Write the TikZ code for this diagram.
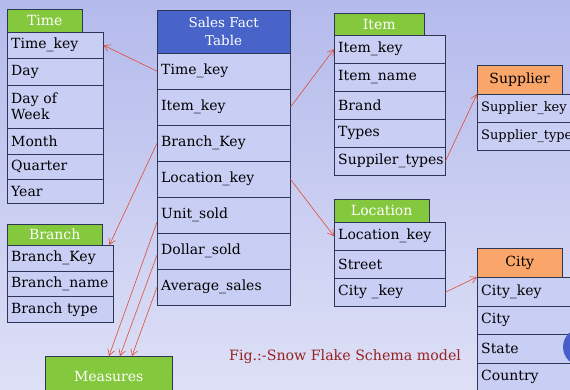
\documentclass[tikz,border=0pt]{standalone}
\usepackage{fontspec}
\setmainfont{DejaVu Serif}
\usetikzlibrary{arrows.meta}
\hyphenpenalty=10000
\exhyphenpenalty=10000
\definecolor{bgtop}{RGB}{180,186,236}
\definecolor{bgbot}{RGB}{222,224,246}
\definecolor{cellc}{RGB}{201,206,244}
\definecolor{linec}{RGB}{45,55,85}
\definecolor{hgreen}{RGB}{132,200,62}
\definecolor{hblue}{RGB}{72,100,200}
\definecolor{horange}{RGB}{250,165,105}
\definecolor{linkred}{RGB}{225,75,55}
\definecolor{capred}{RGB}{150,35,35}
\definecolor{dotblue}{RGB}{70,95,200}

\begin{document}
\begin{tikzpicture}[x=1pt,y=-1pt,font=\fontsize{14}{16}\selectfont,
  cell/.style={draw=linec, fill=cellc, anchor=north west, inner xsep=4pt, inner ysep=0pt, align=left},
  hdr/.style={draw=linec, anchor=north west, inner sep=0pt, text=white},
  link/.style={draw=linkred, semithick, -{Straight Barb[length=6pt,width=7pt]}}]
\useasboundingbox (0,0) rectangle (570,390);
\clip (0,0) rectangle (570,390);
\shade[top color=bgtop, bottom color=bgbot] (0,0) rectangle (570,390);

% Time
\node[hdr, fill=hgreen, minimum width=75, minimum height=23] (time) at (7,9) {Time};
\foreach \y/\h/\t [count=\i from 0] in {32/26/Time\_key, 58/27/Day, 85/43/{Day of\\Week}, 128/26/Month, 154/25/Quarter, 179/24/Year}
  \node[cell, text width=88pt, minimum height=\h] (t\i) at (7,\y) {\t};

% fact table
\node[hdr, fill=hblue, minimum width=133, minimum height=43, align=center, font=\fontsize{13.5}{18}\selectfont] (sales) at (157,10) {Sales Fact\\Table};
\foreach \t [count=\i from 0] in {Time\_key, Item\_key, Branch\_Key, Location\_key, Unit\_sold, Dollar\_sold, Average\_sales}
  \node[cell, text width=125pt, minimum height=36] (s\i) at (157,53+36*\i) {\t};

% Item
\node[hdr, fill=hgreen, minimum width=90, minimum height=22] (item) at (334,13) {Item};
\foreach \t [count=\i from 0] in {Item\_key, Item\_name, Brand, Types, Suppiler\_types}
  \node[cell, text width=103pt, minimum height=28] (i\i) at (334,35+28*\i) {\t};

% Supplier
\node[hdr, fill=horange, text=black, minimum width=85, minimum height=29] (supp) at (477,65) {Supplier};
\foreach \t [count=\i from 0] in {Supplier\_key, Supplier\_type}
  \node[cell, text width=112pt, minimum height=28, font=\fontsize{13}{15}\selectfont] (sp\i) at (477,94+28*\i) {\t};

% Branch
\node[hdr, fill=hgreen, minimum width=95, minimum height=21] (branch) at (7,224) {Branch};
\foreach \t [count=\i from 0] in {Branch\_Key, Branch\_name, Branch type}
  \node[cell, text width=98pt, minimum height=25.7] (b\i) at (7,245+25.7*\i) {\t};

% Location
\node[hdr, fill=hgreen, minimum width=95, minimum height=23] (loc) at (334,199) {Location};
\foreach \t [count=\i from 0] in {Location\_key, Street, City \_key}
  \node[cell, text width=103pt, minimum height=28] (l\i) at (334,222+28*\i) {\t};

% City
\node[hdr, fill=horange, text=black, minimum width=85, minimum height=29] (city) at (477,248) {City};
\foreach \t [count=\i from 0] in {City\_key, City, State, Country}
  \node[cell, text width=112pt, minimum height=28.5] (c\i) at (477,277+28.5*\i) {\t};
\fill[dotblue] (582,347) circle (19);

\node[hdr, fill=hgreen, minimum width=127, minimum height=40] (meas) at (45,356) {Measures};
\node[text=capred, anchor=west, inner sep=0pt, font=\fontsize{14.2}{16}\selectfont] (cap) at (229,357) {Fig.:-Snow Flake Schema model};

% links
\draw[link] (s0.west) -- (t0.east);
\draw[link] (s1.east) -- (i0.west);
\draw[link] (s2.west) -- ([xshift=-4pt]b0.north east);
\draw[link] (s3.east) -- (l0.west);
\draw[link] (i4.east) -- (sp0.north west);
\draw[link] (l2.east) -- (c0.north west);
\draw[link] ([yshift=-7pt]s4.west) -- ([xshift=64pt]meas.north west);
\draw[link] ([yshift=-4pt]s5.west) -- ([xshift=75pt]meas.north west);
\draw[link] (s6.west) -- ([xshift=87pt]meas.north west);
\end{tikzpicture}
\end{document}
